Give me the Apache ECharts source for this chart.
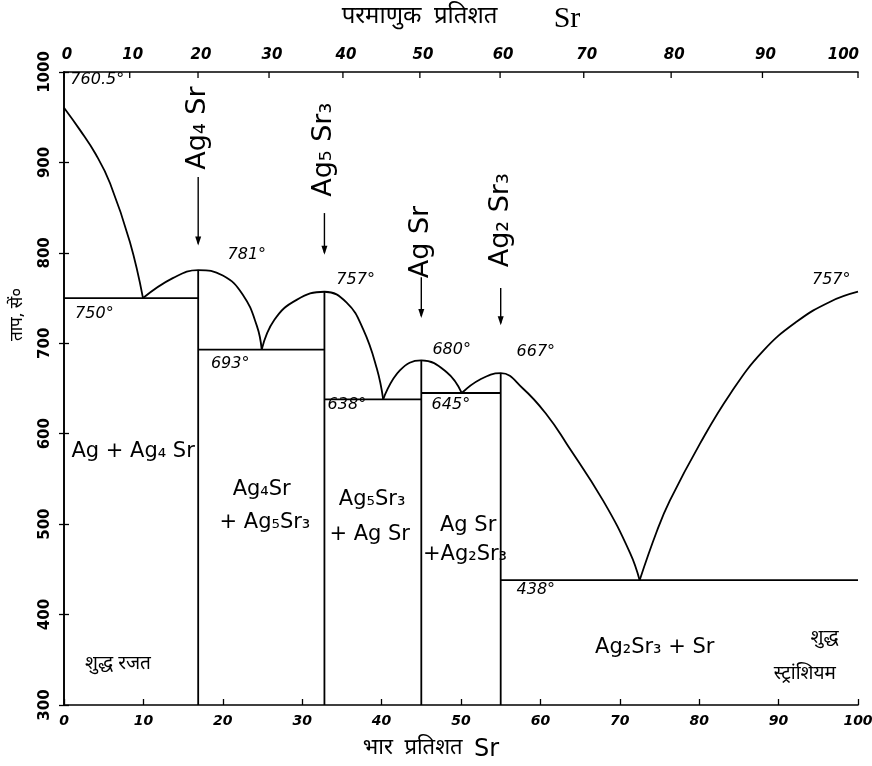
<!DOCTYPE html>
<html><head><meta charset="utf-8">
<script src="https://cdn.jsdelivr.net/npm/echarts@6/dist/echarts.min.js"></script>
<style>html,body{margin:0;padding:0;background:#fff}#c{width:872px;height:766px}</style>
</head><body><div id="c"></div>
<script>
// ---- data ----
const wtTicks = [0,10,20,30,40,50,60,70,80,90,100];
const atTicks = [0,10,20,30,40,50,60,70,80,90,100];
const tempTicks = [300,400,500,600,700,800,900,1000];
const massAg = 107.87, massSr = 87.62;

// liquidus branches [wt% Sr, °C]
const liqAg     = [[0,960.5],[2,936],[4,909],[5.8,877],[8.3,812],[9.95,750]];
const liqAg4Sr  = [[9.95,750],[13.7,772],[16.9,781],[20,775],[22.5,754],[24.3,719],[24.9,693]];
const liqAg5Sr3 = [[24.9,693],[26.5,726],[29.3,748],[32.8,757],[35.6,745],[37.7,715],[39.4,672],[40.2,638]];
const liqAgSr   = [[40.2,638],[42.3,670],[45,681],[48.2,668],[50.1,645]];
const liqAg2Sr3 = [[50.1,645],[52.4,660],[55,667],[57.8,650],[60.8,621],[63.3,589],[67.9,526],[71.3,468],[72.5,438]];
const liqSr     = [[72.5,438],[74.7,493],[76.3,526],[80.1,589],[83.9,644],[88,691],[92.3,724],[96.5,746],[100,757]];

// eutectic horizontals and compound verticals
const eutectics = [[[0,750],[16.9,750]],[[16.9,693],[32.8,693]],[[32.8,638],[45,638]],[[45,645],[55,645]],[[55,438],[100,438]]];
const compounds = ['Ag₄ Sr','Ag₅ Sr₃','Ag Sr','Ag₂ Sr₃'];
const compoundWt = [16.9,32.8,45,55];
const compoundTop = [781,757,681,667];
const compoundLabelT = [938,914,812,836];
const arrowFromT = [884,844,773,761];
const arrowToT = [808,798,728,720];

// temperature annotations
const tempText = ['760.5°','750°','781°','693°','757°','638°','680°','645°','667°','757°','438°'];
const tempAt = [[0.8,991],[1.4,733],[20.6,798],[18.5,677],[34.3,770],[33.2,632],[46.4,693],[46.3,632],[57,690],[94.2,770],[57,427]];

// phase region annotations
const regionText = ['Ag + Ag₄ Sr','Ag₄Sr','+ Ag₅Sr₃','Ag₅Sr₃','+ Ag Sr','Ag Sr','+Ag₂Sr₃','Ag₂Sr₃ + Sr'];
const regionAt = [[8.7,580],[24.9,538],[25.3,502],[38.8,527],[38.5,488],[50.9,499],[50.5,466],[74.4,363]];
const noteText = ['शुद्ध रजत','शुद्ध','स्ट्रांशियम'];
const noteAt = [[6.8,344],[95.8,372],[93.3,333]];

function atToWt(a){ const s=a*massSr, g=(100-a)*massAg; return a===0?0:100*s/(s+g); }

const BLK = '#000';
const devFont = '"Noto Sans Devanagari","Lohit Devanagari","FreeSans","Noto Sans",sans-serif';
const numFont = '"DejaVu Sans",sans-serif';

const lineSeries = (d, smooth) => ({type:'line', data:d, smooth:smooth, symbol:'none', silent:true,
  lineStyle:{color:BLK,width:1.8}, z:3});

const series = [];
[liqAg,liqAg4Sr,liqAg5Sr3,liqAgSr,liqAg2Sr3,liqSr].forEach(d=>series.push(lineSeries(d,0.45)));
eutectics.forEach(d=>series.push(lineSeries(d,false)));
compoundWt.forEach((w,i)=>series.push(lineSeries([[w,compoundTop[i]],[w,300]],false)));

// arrows pointing down at the compound compositions
series.push({type:'custom', silent:true, z:4,
  data: compoundWt.map((w,i)=>[w,arrowFromT[i],arrowToT[i]]),
  renderItem:(params,api)=>{
    const a = api.coord([api.value(0),api.value(1)]);
    const b = api.coord([api.value(0),api.value(2)]);
    return {type:'group', children:[
      {type:'line', shape:{x1:a[0],y1:a[1],x2:b[0],y2:b[1]-2}, style:{stroke:BLK,lineWidth:1.4}},
      {type:'polygon', shape:{points:[[b[0]-3,b[1]-9],[b[0]+3,b[1]-9],[b[0],b[1]]]}, style:{fill:BLK}}
    ]};
  }});

const labelScatter = (data, label) => ({type:'scatter', symbolSize:0, silent:true, z:5,
  itemStyle:{opacity:1}, data:data, label:Object.assign({show:true, position:'inside', formatter:p=>p.name, color:BLK}, label)});

// compound labels (rotated)
series.push(labelScatter(compounds.map((c,i)=>({value:[compoundWt[i],compoundLabelT[i]], name:c})),
  {rotate:90, fontFamily:numFont, fontSize:27}));
// temperature labels
series.push(labelScatter(tempText.map((t,i)=>({value:tempAt[i], name:t})),
  {align:'left', fontFamily:numFont, fontSize:16, fontStyle:'italic'}));
// region labels
series.push(labelScatter(regionText.map((t,i)=>({value:regionAt[i], name:t})),
  {fontFamily:numFont, fontSize:21}));
// Hindi notes
series.push(labelScatter(noteText.map((t,i)=>({value:noteAt[i], name:t})),
  {fontFamily:devFont, fontSize:19}));

// top (atomic %) axis ticks and labels
series.push({type:'custom', xAxisIndex:1, yAxisIndex:0, silent:true, clip:false, z:6,
  data: atTicks.map(a=>[atToWt(a),1000,a]),
  renderItem:(params,api)=>{
    const p = api.coord([api.value(0),1000]);
    const last = api.value(2) === atTicks[atTicks.length-1];
    return {type:'group', children:[
      {type:'line', shape:{x1:p[0],y1:p[1],x2:p[0],y2:p[1]+6}, style:{stroke:BLK,lineWidth:1.3}},
      {type:'text', x:last ? p[0]+1 : p[0]+3, y:p[1]-9, style:{text:String(api.value(2)), fill:BLK,
        font:'italic bold 15px "DejaVu Sans", sans-serif', align:last?'right':'center', verticalAlign:'bottom'}}
    ]};
  }});

const chart = echarts.init(document.getElementById('c'), null, {renderer:'canvas'});
chart.setOption({
  backgroundColor:'#fff',
  animation:false,
  grid:{left:64,right:14,top:72,bottom:61,containLabel:false,outerBoundsMode:'none'},
  graphic:[
    {type:'text', left:10, top:288, rotation:Math.PI/2,
     style:{text:'ताप, सें०', fill:BLK, font:'17px "Noto Sans Devanagari", sans-serif'}}
  ],
  xAxis:[
    {type:'value', min:0, max:100, interval:10, position:'bottom',
     axisLine:{lineStyle:{color:BLK,width:1.6}}, splitLine:{show:false},
     axisTick:{inside:true,length:6,lineStyle:{color:BLK,width:1.3}},
     axisLabel:{color:BLK, fontFamily:numFont, fontSize:14, fontWeight:'bold', fontStyle:'italic', margin:9,
       formatter:v=>String(v)},
     name:'भार  प्रतिशत  {sr|Sr}', nameLocation:'middle', nameGap:33,
     nameTextStyle:{color:BLK, fontFamily:devFont, fontSize:22, padding:[0,60,0,0],
       rich:{sr:{fontFamily:numFont,fontSize:24,color:BLK}}}},
    {type:'value', min:0, max:100, position:'top',
     axisLine:{show:true, onZero:false, lineStyle:{color:BLK,width:1.6}}, splitLine:{show:false},
     axisTick:{show:false}, axisLabel:{show:false},
     name:'परमाणुक  प्रतिशत         {sr|Sr}', nameLocation:'middle', nameGap:38,
     nameTextStyle:{color:BLK, fontFamily:devFont, fontSize:24,
       rich:{sr:{fontFamily:'"Liberation Serif",serif',fontSize:30,color:BLK}}}}
  ],
  yAxis:[
    {type:'value', min:300, max:1000, interval:100, position:'left',
     axisLine:{show:true,lineStyle:{color:BLK,width:1.6}}, splitLine:{show:false},
     axisTick:{show:true,inside:true,length:5,lineStyle:{color:BLK,width:1.3}},
     axisLabel:{color:BLK, fontFamily:numFont, fontSize:15, fontWeight:'bold', rotate:90, margin:11,
       formatter:v=>String(v)}},
    {type:'value', min:300, max:1000, interval:100, position:'right',
     axisLine:{show:true,lineStyle:{color:BLK,width:1.6}}, splitLine:{show:false},
     axisTick:{show:true,inside:true,length:5,lineStyle:{color:BLK,width:1.3}},
     axisLabel:{show:false}}
  ],
  series: series
});
</script>
</body></html>
